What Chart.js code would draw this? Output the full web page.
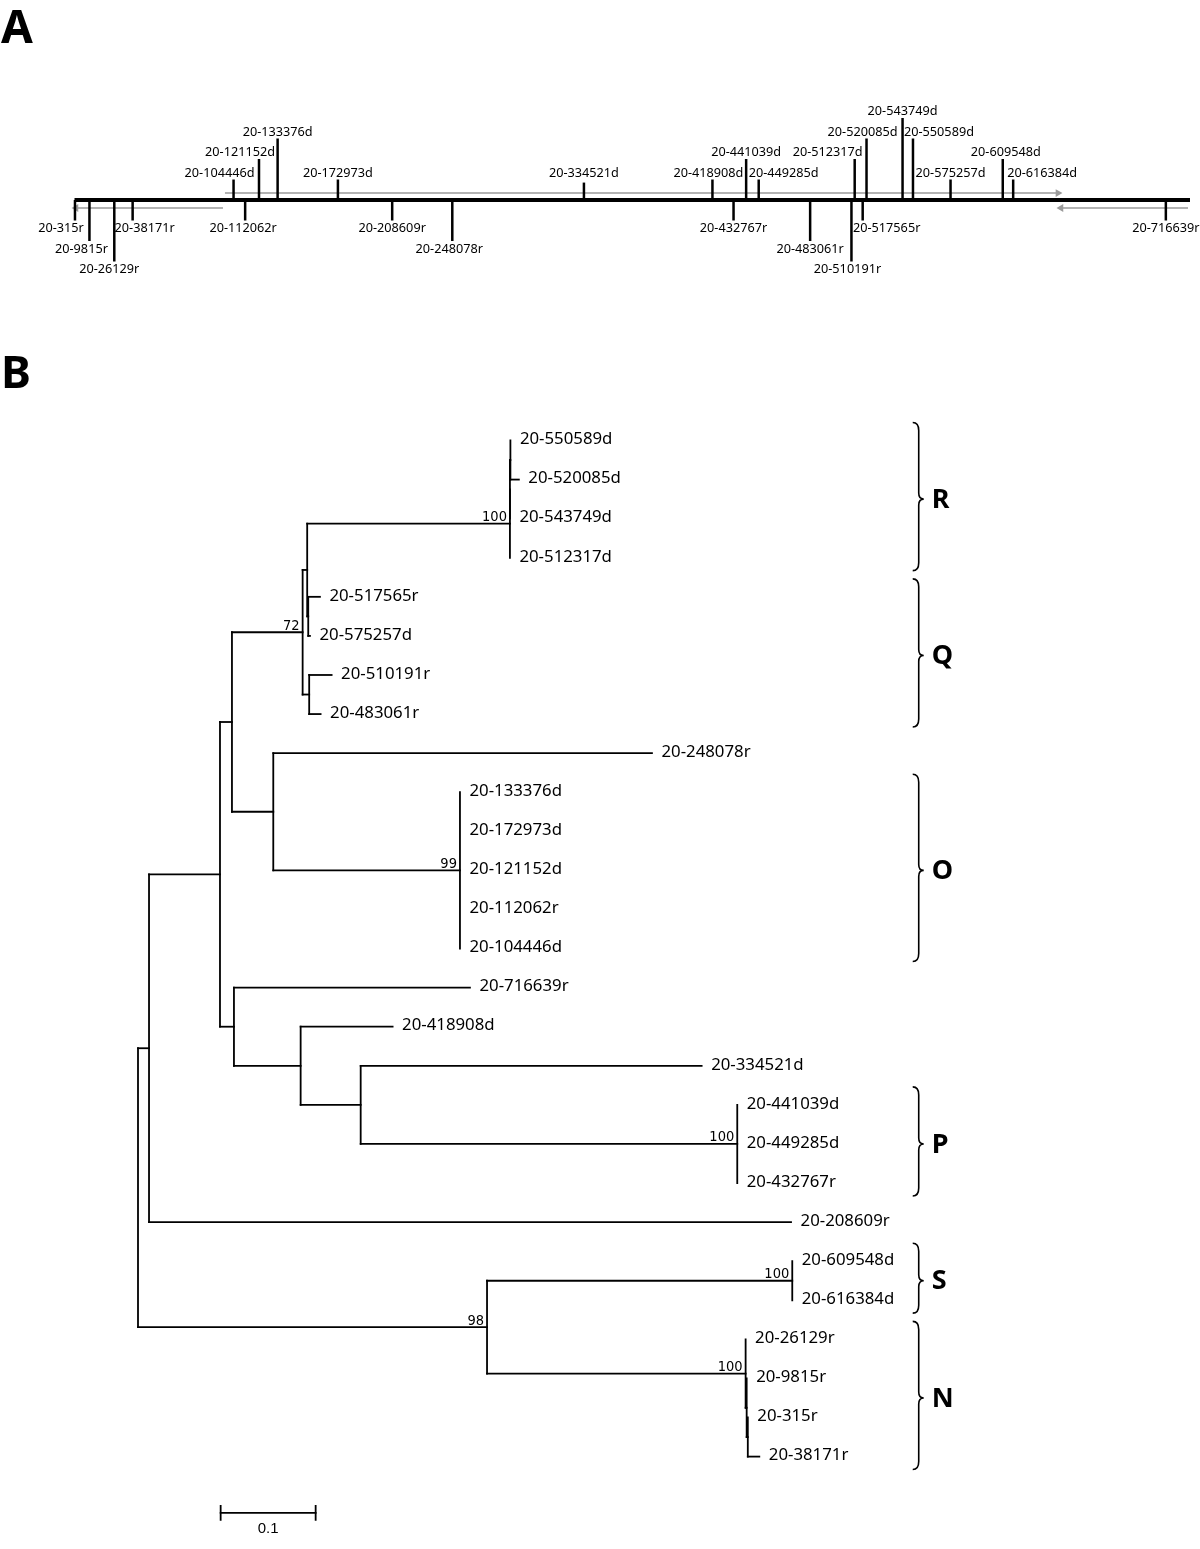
<!DOCTYPE html>
<html><head><meta charset="utf-8">
<script src="https://cdn.jsdelivr.net/npm/chart.js@4.4.1/dist/chart.umd.min.js"></script>
<style>
html,body{margin:0;padding:0;background:#fff;width:1200px;height:1549px;overflow:hidden}
canvas{position:absolute;left:0}
#cA{top:0}
#cB{top:300px}
</style></head>
<body>
<canvas id="cA" width="1200" height="300"></canvas>
<canvas id="cB" width="1200" height="1249"></canvas>
<script>
// ================= DATA =================
// Panel A: genome map
const genomeLength = 732500;
const markerNames = ['20-315r','20-9815r','20-26129r','20-38171r','20-104446d','20-112062r','20-121152d','20-133376d','20-172973d','20-208609r','20-248078r','20-334521d','20-418908d','20-432767r','20-441039d','20-449285d','20-483061r','20-510191r','20-512317d','20-517565r','20-520085d','20-543749d','20-550589d','20-575257d','20-609548d','20-616384d','20-716639r'];
const markerPositions = [315,9815,26129,38171,104446,112062,121152,133376,172973,208609,248078,334521,418908,432767,441039,449285,483061,510191,512317,517565,520085,543749,550589,575257,609548,616384,716639];
const markerStrands = ['r','r','r','r','d','r','d','d','d','r','r','d','d','r','d','d','r','r','d','r','d','d','d','d','d','d','r'];
const arrowFrom = [98800, 97500, 731200];
const arrowTo   = [645800, 1000, 647800];

// Panel B: phylogenetic tree (Newick, branch lengths in substitutions/site, internal labels = bootstrap)
const cladeR  = '(((20-550589d:0,20-520085d:0.0089):0.0005,20-543749d:0):0,20-512317d:0)100:0.2134';
const cladeQ  = '(20-517565r:0.0123,20-575257d:0.0018):0.0011';
const cladeQ2 = '(20-510191r:0.0236,20-483061r:0.012):0.0069';
const cladeO  = '(20-248078r:0.3986,(20-133376d:0,20-172973d:0,20-121152d:0,20-112062r:0,20-104446d:0)99:0.1965):0.0435';
const cladeP  = '(20-716639r:0.2484,(20-418908d:0.0968,(20-334521d:0.3589,(20-441039d:0,20-449285d:0,20-432767r:0)100:0.3964):0.0632):0.0702):0.0147';
const cladeS  = '(20-609548d:0,20-616384d:0)100:0.3213';
const cladeN  = '(20-26129r:0,(20-9815r:0,(20-315r:0,20-38171r:0.0121):0.0012):0.0011)100:0.2722';
const treeNewick = '((((((' + cladeR + ',' + cladeQ + '):0.0048,' + cladeQ2 + ')72:0.0744,' + cladeO + '):0.0126,' + cladeP + '):0.0747,20-208609r:0.6758):0.0116,(' + cladeS + ',' + cladeN + ')98:0.3674);';
const groupNames = ['R','Q','O','P','S','N'];
const groupFirst = ['20-550589d','20-517565r','20-133376d','20-441039d','20-609548d','20-26129r'];
const groupLast  = ['20-512317d','20-483061r','20-104446d','20-432767r','20-616384d','20-38171r'];
const scaleBarLength = 0.1;

// ================= LAYOUT (not data) =================
const tickLevel  = [-1,-2,-3,-1, 1,-1, 2, 3, 1,-1,-2,0.85, 1,-1, 2, 1,-2,-3, 2,-1, 3, 4, 3, 1, 2, 1,-1];
const labelLevel = [-1,-2,-3,-1, 1,-1, 2, 3, 1,-1,-2, 1, 1,-1, 2, 1,-2,-3, 2,-1, 3, 4, 3, 1, 2, 1,-1];
const labelShift = [-14,-8,-5,12,-14,-2,-19,0,0,0,-3,0,-4,0,0,25,0,-4,-27,24,-4,0,26,0,3,29,0];
const arrowLevel = [0.34,-0.39,-0.39];
const LEAF_FONT = '16.8px "Noto Sans", "Open Sans", sans-serif';
const SMALL_FONT = '12.7px "Noto Sans", "Open Sans", sans-serif';
const BOOT_FONT = '14.5px "Liberation Sans Narrow", "Arial Narrow", "DejaVu Sans Condensed", sans-serif';

// ================= PANEL A =================
const dsA = [];
dsA.push({data:[{x:0,y:0},{x:genomeLength,y:0}], showLine:true, borderColor:'#000', borderWidth:4, pointRadius:0, clip:false});
markerPositions.forEach((p,i)=>{
  dsA.push({data:[{x:p,y:0},{x:p,y:tickLevel[i]}], showLine:true, borderColor:'#000', borderWidth:2.5, pointRadius:0, clip:false});
});
arrowFrom.forEach((f,i)=>{
  const right = arrowTo[i] > f;
  dsA.push({data:[{x:f,y:arrowLevel[i]},{x:arrowTo[i],y:arrowLevel[i]}], showLine:true, borderColor:'#9a9a9a', borderWidth:1.6,
    pointRadius:[0,4.5], pointStyle:'triangle', rotation:right?90:270, pointBackgroundColor:'#9a9a9a', pointBorderWidth:0, clip:false});
});
const textA = {
  id:'textA',
  afterDatasetsDraw(chart){
    const ctx = chart.ctx, xs = chart.scales.x, ys = chart.scales.y;
    ctx.save();
    ctx.fillStyle = '#000';
    ctx.font = SMALL_FONT; ctx.textAlign = 'center'; ctx.textBaseline = 'middle';
    markerNames.forEach((n,i)=>{
      const x = xs.getPixelForValue(markerPositions[i]) + labelShift[i];
      const up = markerStrands[i] === 'd';
      const y = ys.getPixelForValue(labelLevel[i]) + (up ? -6.5 : 8);
      ctx.fillText(n, x, y);
    });
    ctx.font = 'bold 46px "Noto Sans", sans-serif'; ctx.textAlign = 'left'; ctx.textBaseline = 'alphabetic';
    ctx.fillText('A', 1, 43);
    ctx.restore();
  }
};
new Chart(document.getElementById('cA'), {
  type:'scatter',
  data:{datasets:dsA},
  options:{responsive:false, animation:false, devicePixelRatio:1, events:[],
    layout:{padding:{left:74.5, right:10, top:97.5, bottom:18}},
    scales:{x:{type:'linear', min:0, max:genomeLength, display:false}, y:{type:'linear', min:-4, max:5, display:false}},
    plugins:{legend:{display:false}, tooltip:{enabled:false}}},
  plugins:[textA]
});

// ================= PANEL B =================
function parseNewick(s){
  let i = 0;
  function node(){
    const n = {children:[], name:'', len:0, support:''};
    if (s[i] === '('){
      i++; n.children.push(node());
      while (s[i] === ','){ i++; n.children.push(node()); }
      i++;
    }
    let tok = '';
    while (i < s.length && ':,);'.indexOf(s[i]) < 0) tok += s[i++];
    if (n.children.length) n.support = tok; else n.name = tok;
    if (s[i] === ':'){ i++; let num=''; while (i < s.length && ',);'.indexOf(s[i]) < 0) num += s[i++]; n.len = parseFloat(num); }
    return n;
  }
  return node();
}
const root = parseNewick(treeNewick);
const leaves = [], internals = [];
let leafCounter = 0;
(function layout(n, x){
  n.x = x + n.len;
  if (!n.children.length){ n.y = leafCounter++; leaves.push(n); return; }
  n.children.forEach(c => { c.parent = n; layout(c, n.x); });
  n.y = (n.children[0].y + n.children[n.children.length-1].y) / 2;
  internals.push(n);
})(root, -root.len);

const dsB = [];
const seg = (a,b) => ({data:[a,b], showLine:true, borderColor:'#000', borderWidth:1.8, pointRadius:0, clip:false, borderCapStyle:'square'});
internals.forEach(n => {
  dsB.push(seg({x:n.x, y:n.children[0].y}, {x:n.x, y:n.children[n.children.length-1].y}));
});
[...internals, ...leaves].forEach(n => {
  if (n.parent && n.len > 0) dsB.push(seg({x:n.parent.x, y:n.y}, {x:n.x, y:n.y}));
});
// scale bar
const sbStart = 0.087, sbY = 27.44;
dsB.push(seg({x:sbStart, y:sbY}, {x:sbStart+scaleBarLength, y:sbY}));
dsB.push(seg({x:sbStart, y:sbY-0.18}, {x:sbStart, y:sbY+0.18}));
dsB.push(seg({x:sbStart+scaleBarLength, y:sbY-0.18}, {x:sbStart+scaleBarLength, y:sbY+0.18}));

const textB = {
  id:'textB',
  afterDatasetsDraw(chart){
    const ctx = chart.ctx, xs = chart.scales.x, ys = chart.scales.y;
    ctx.save();
    ctx.fillStyle = '#000'; ctx.strokeStyle = '#000';
    ctx.font = LEAF_FONT; ctx.textAlign = 'left'; ctx.textBaseline = 'middle';
    leaves.forEach(l => ctx.fillText(l.name, xs.getPixelForValue(l.x) + 9.5, ys.getPixelForValue(l.y) - 1));
    ctx.font = BOOT_FONT; ctx.textAlign = 'right'; ctx.textBaseline = 'alphabetic';
    internals.forEach(n => { if (n.support) ctx.fillText(n.support, xs.getPixelForValue(n.x) - 3, ys.getPixelForValue(n.y) - 2.5); });
    // brackets
    const byName = {}; leaves.forEach(l => byName[l.name] = l);
    groupNames.forEach((g,i) => {
      const x0 = xs.getPixelForValue(0.8155);
      const yT = ys.getPixelForValue(byName[groupFirst[i]].y - 0.46);
      const yB = ys.getPixelForValue(byName[groupLast[i]].y + 0.33);
      const yM = (ys.getPixelForValue(byName[groupFirst[i]].y) + ys.getPixelForValue(byName[groupLast[i]].y)) / 2;
      ctx.lineWidth = 1.6;
      ctx.beginPath();
      ctx.moveTo(x0, yT);
      ctx.quadraticCurveTo(x0+6, yT, x0+6, yT+8);
      ctx.lineTo(x0+6, yM-6);
      ctx.quadraticCurveTo(x0+6, yM, x0+11, yM);
      ctx.quadraticCurveTo(x0+6, yM, x0+6, yM+6);
      ctx.lineTo(x0+6, yB-8);
      ctx.quadraticCurveTo(x0+6, yB, x0, yB);
      ctx.stroke();
      ctx.font = 'bold 27px "Noto Sans", sans-serif'; ctx.textAlign = 'left'; ctx.textBaseline = 'middle';
      ctx.fillText(g, x0 + 19, yM + 1);
    });
    // scale bar label
    ctx.font = '15px "Liberation Sans Narrow", "Liberation Sans", sans-serif'; ctx.textAlign = 'center'; ctx.textBaseline = 'middle';
    ctx.fillText(String(scaleBarLength), xs.getPixelForValue(sbStart + scaleBarLength/2), ys.getPixelForValue(sbY) + 16);
    // panel letter
    ctx.font = 'bold 45px "Noto Sans", sans-serif'; ctx.textAlign = 'left'; ctx.textBaseline = 'alphabetic';
    ctx.fillText('B', 1, 88);
    ctx.restore();
  }
};
new Chart(document.getElementById('cB'), {
  type:'scatter',
  data:{datasets:dsB},
  options:{responsive:false, animation:false, devicePixelRatio:1, events:[],
    layout:{padding:{left:138, right:112, top:140.5, bottom:92.4}},
    scales:{x:{type:'linear', min:0, max:1.0, display:false}, y:{type:'linear', min:0, max:26, reverse:true, display:false}},
    plugins:{legend:{display:false}, tooltip:{enabled:false}}},
  plugins:[textB]
});
</script>
</body></html>
